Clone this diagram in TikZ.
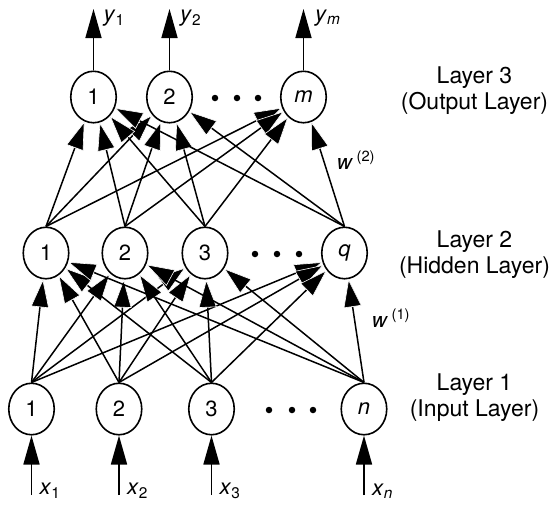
\documentclass[tikz,border=0pt]{standalone}
\usepackage{fontspec}
\setmainfont{TeX Gyre Heros}
\usetikzlibrary{arrows.meta,shapes.geometric}
\begin{document}
\begin{tikzpicture}[x=1pt,y=-1pt,
  neuron/.style={draw,ellipse,line width=1.6pt,minimum width=45.5pt,minimum height=51.5pt,inner sep=0pt,font=\fontsize{22}{26}\selectfont},
  conn/.style={line width=1.5pt,-{Triangle[length=28pt,width=18pt,color=white,fill=black,line width=0.6pt]}},
  ioarrow/.style={line width=1.7pt,-{Triangle[length=29pt,width=16pt]}},
  iolabel/.style={font=\fontsize{22}{26}\selectfont,anchor=west,inner sep=0pt},
  wlabel/.style={font=\fontsize{21}{25}\selectfont,inner sep=0pt},
  layerlabel/.style={align=center,font=\fontsize{23}{26}\selectfont,inner sep=0pt},
  dotmark/.style={circle,fill,inner sep=0pt,minimum size=6.5pt}]
\useasboundingbox (0,0) rectangle (550,509);
% output layer
\node[neuron] (O1) at (93.5,97) {1};
\node[neuron] (O2) at (169.5,97) {2};
\node[neuron] (Om) at (303.5,97) {\textit{m}};
\node[dotmark] (od1) at (215,98) {};
\node[dotmark] (od2) at (237,98) {};
\node[dotmark] (od3) at (258,98) {};
% hidden layer
\node[neuron] (H1) at (46,253) {1};
\node[neuron] (H2) at (125,253) {2};
\node[neuron] (H3) at (205,253) {3};
\node[neuron] (Hq) at (344.5,253) {\textit{q}};
\node[dotmark] (hd1) at (255,254) {};
\node[dotmark] (hd2) at (277,254) {};
\node[dotmark] (hd3) at (299,254) {};
% input layer
\node[neuron] (I1) at (31.5,409) {1};
\node[neuron] (I2) at (119,409) {2};
\node[neuron] (I3) at (211.5,409) {3};
\node[neuron] (In) at (364,409) {\textit{n}};
\node[dotmark] (id1) at (269,410) {};
\node[dotmark] (id2) at (292,410) {};
\node[dotmark] (id3) at (313,410) {};
% connections
\foreach \a in {I1,I2,I3,In}
  \foreach \b in {H1,H2,H3,Hq}
    \draw[conn] (\a.north) -- (\b);
\foreach \a in {H1,H2,H3,Hq}
  \foreach \b in {O1,O2,Om}
    \draw[conn] (\a.north) -- (\b);
% outputs
\coordinate (y1) at (93.5,9);
\coordinate (y2) at (169.5,9);
\coordinate (ym) at (303.5,9);
\draw[ioarrow] (O1.north) -- (y1);
\draw[ioarrow] (O2.north) -- (y2);
\draw[ioarrow] (Om.north) -- (ym);
\node[iolabel] (ly1) at (103.5,18) {\textit{y}\textsubscript{1}};
\node[iolabel] (ly2) at (180,18) {\textit{y}\textsubscript{2}};
\node[iolabel] (lym) at (315,18) {\textit{y}\textsubscript{\textit{m}}};
% inputs
\coordinate (x1) at (31.5,495);
\coordinate (x2) at (119,495);
\coordinate (x3) at (211.5,495);
\coordinate (xn) at (364,495);
\draw[ioarrow] (x1) -- (I1.south);
\draw[ioarrow] (x2) -- (I2.south);
\draw[ioarrow] (x3) -- (I3.south);
\draw[ioarrow] (xn) -- (In.south);
\node[iolabel] (lx1) at (39.5,491) {\textit{x}\textsubscript{1}};
\node[iolabel] (lx2) at (127,491) {\textit{x}\textsubscript{2}};
\node[iolabel] (lx3) at (219.5,491) {\textit{x}\textsubscript{3}};
\node[iolabel] (lxn) at (372,491) {\textit{x}\textsubscript{\textit{n}}};
% weights
\node[wlabel] (w2) at (356,160) {\textit{w}\,\textsuperscript{(2)}};
\node[wlabel] (w1) at (391,318) {\textit{w}\,\textsuperscript{(1)}};
% layer labels
\node[layerlabel] (L3) at (474.5,91) {Layer 3\\(Output Layer)};
\node[layerlabel] (L2) at (474.5,255) {Layer 2\\(Hidden Layer)};
\node[layerlabel] (L1) at (474.5,398) {Layer 1\\(Input Layer)};
\end{tikzpicture}
\end{document}
